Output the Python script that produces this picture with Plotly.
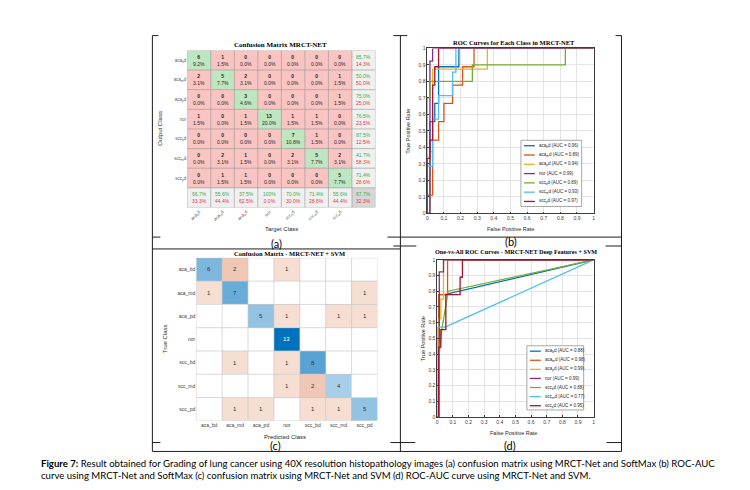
import plotly.graph_objects as go

W, H = 750, 490
def px(x): return x / W
def py(y): return 1 - y / H

# ---------------- data ----------------
class_tex = ["aca<sub>b</sub>d", "aca<sub>m</sub>d", "aca<sub>p</sub>d", "nor",
             "scc<sub>b</sub>d", "scc<sub>m</sub>d", "scc<sub>p</sub>d"]
class_svm = ["aca_bd", "aca_md", "aca_pd", "nor", "scc_bd", "scc_md", "scc_pd"]

# rows = output class, cols = target class
cm_softmax = [
    [6, 1, 0, 0, 0, 0, 0],
    [2, 5, 2, 0, 0, 0, 1],
    [0, 0, 3, 0, 0, 0, 1],
    [1, 0, 1, 13, 1, 1, 0],
    [0, 0, 0, 0, 7, 1, 0],
    [0, 2, 1, 0, 2, 5, 2],
    [0, 1, 1, 0, 0, 0, 5],
]
# rows = true class, cols = predicted class
cm_svm = [
    [6, 2, 0, 1, 0, 0, 0],
    [1, 7, 0, 0, 0, 0, 1],
    [0, 0, 5, 1, 0, 1, 1],
    [0, 0, 0, 13, 0, 0, 0],
    [0, 1, 0, 1, 8, 0, 0],
    [0, 0, 0, 1, 2, 4, 0],
    [0, 1, 1, 0, 1, 1, 5],
]

auc_softmax = [0.96, 0.89, 0.94, 0.99, 0.89, 0.93, 0.97]
auc_svm = [0.88, 0.98, 0.99, 0.99, 0.88, 0.77, 0.95]

roc_softmax_fpr = [
    [0, 0.016, 0.016, 0.045, 0.045, 0.068, 0.068, 0.19, 0.19, 1],
    [0, 0, 0.032, 0.032, 0.068, 0.068, 0.10, 0.10, 0.152, 0.152, 0.212, 0.212, 0.281, 0.281, 1],
    [0, 0.016, 0.016, 0.032, 0.032, 0.361, 0.361, 1],
    [0, 0.016, 0.016, 0.032, 0.032, 1],
    [0, 0, 0.016, 0.016, 0.271, 0.271, 0.83, 0.83, 1],
    [0, 0, 0.032, 0.032, 0.068, 0.068, 0.152, 0.152, 0.172, 0.172, 1],
    [0, 0, 0.016, 0.016, 0.032, 0.032, 0.045, 0.045, 0.068, 0.068, 1],
]
roc_softmax_tpr = [
    [0, 0, 0.556, 0.556, 0.667, 0.667, 0.889, 0.889, 1, 1],
    [0, 0.111, 0.111, 0.444, 0.444, 0.556, 0.556, 0.667, 0.667, 0.778, 0.778, 0.889, 0.889, 1, 1],
    [0, 0, 0.375, 0.375, 0.875, 0.875, 1, 1],
    [0, 0, 0.923, 0.923, 1, 1],
    [0, 0.7, 0.7, 0.8, 0.8, 0.9, 0.9, 1, 1],
    [0, 0.286, 0.286, 0.571, 0.571, 0.714, 0.714, 0.857, 0.857, 1, 1],
    [0, 0.333, 0.333, 0.444, 0.444, 0.778, 0.778, 0.889, 0.889, 1, 1],
]
roc_svm_fpr = [
    [0, 0.009, 0.009, 0.045, 1],
    [0, 0.009, 0.009, 0.066, 0.066, 1],
    [0, 0.009, 0.009, 0.023, 0.023, 0.04, 0.04, 1],
    [0, 0.013, 0.013, 0.04, 0.04, 1],
    [0, 0.013, 0.013, 0.03, 0.07, 1],
    [0, 0, 0.05, 1],
    [0, 0.009, 0.009, 0.023, 0.023, 0.055, 0.055, 0.146, 0.146, 0.161, 0.161, 1],
]
roc_svm_tpr = [
    [0, 0, 0.778, 0.778, 1],
    [0, 0, 0.778, 0.778, 1, 1],
    [0, 0, 0.625, 0.625, 0.75, 0.75, 1, 1],
    [0, 0, 0.923, 0.923, 1, 1],
    [0, 0, 0.4, 0.56, 0.8, 1],
    [0, 0.571, 0.571, 1],
    [0, 0, 0.444, 0.444, 0.556, 0.556, 0.778, 0.778, 0.889, 0.889, 1, 1],
]

line_colors = ["#0072BD", "#D95319", "#EDB120", "#7E2F8E", "#77AC30", "#4DBEEE", "#A2142F"]

SANS = "Liberation Sans"
SERIF = "Liberation Serif"

fig = go.Figure()
annotations = []
shapes = []
n = len(class_tex)

# ---------------- (a) confusion matrix softmax ----------------
total = sum(sum(r) for r in cm_softmax)
zcat = []
for i in range(n + 1):
    row = []
    for j in range(n + 1):
        if i == n and j == n:
            row.append(3)
        elif i == n or j == n:
            row.append(2)
        elif i == j:
            row.append(0)
        else:
            row.append(1)
    zcat.append(row)
G, P, GR, C = "rgb(190,230,193)", "rgb(249,196,193)", "rgb(240,240,240)", "rgb(214,214,214)"
fig.add_trace(go.Heatmap(
    z=zcat, x=list(range(n + 1)), y=list(range(n + 1)), zmin=0, zmax=3,
    colorscale=[[0, G], [1/6, G], [1/6, P], [0.5, P], [0.5, GR], [5/6, GR], [5/6, C], [1, C]],
    showscale=False, hoverinfo="skip", xaxis="x", yaxis="y"))

def pct(v):
    return "100%" if abs(v - 100) < 1e-9 else f"{v:.1f}%"

for i in range(n):
    for j in range(n):
        v = cm_softmax[i][j]
        annotations.append(dict(x=j, y=i, xref="x", yref="y", showarrow=False,
                                text=f"<b>{v}</b><br>{pct(v / total * 100)}",
                                font=dict(family=SANS, size=5, color="rgb(40,40,40)")))
GT, RT = "rgb(60,175,70)", "rgb(225,60,60)"
for i in range(n):
    rs = sum(cm_softmax[i])
    acc = cm_softmax[i][i] / rs * 100
    annotations.append(dict(x=n, y=i, xref="x", yref="y", showarrow=False,
                            text=f"<span style='color:{GT}'>{pct(acc)}</span><br><span style='color:{RT}'>{pct(100 - acc)}</span>",
                            font=dict(family=SANS, size=5)))
for j in range(n):
    cs = sum(cm_softmax[i][j] for i in range(n))
    acc = cm_softmax[j][j] / cs * 100
    annotations.append(dict(x=j, y=n, xref="x", yref="y", showarrow=False,
                            text=f"<span style='color:{GT}'>{pct(acc)}</span><br><span style='color:{RT}'>{pct(100 - acc)}</span>",
                            font=dict(family=SANS, size=5)))
acc_all = sum(cm_softmax[k][k] for k in range(n)) / total * 100
annotations.append(dict(x=n, y=n, xref="x", yref="y", showarrow=False,
                        text=f"<span style='color:{GT}'>{pct(acc_all)}</span><br><span style='color:{RT}'>{pct(100 - acc_all)}</span>",
                        font=dict(family=SANS, size=5)))
for k in range(n + 2):
    shapes.append(dict(type="line", xref="x", yref="y", x0=k - 0.5, x1=k - 0.5, y0=-0.5, y1=n + 0.5,
                       line=dict(color="rgb(150,150,150)", width=0.6)))
    shapes.append(dict(type="line", xref="x", yref="y", y0=k - 0.5, y1=k - 0.5, x0=-0.5, x1=n + 0.5,
                       line=dict(color="rgb(150,150,150)", width=0.6)))

# ---------------- (c) confusion matrix SVM ----------------
cmax = max(max(r) for r in cm_svm)
diag = [[cm_svm[i][j] if i == j else None for j in range(n)] for i in range(n)]
off = [[cm_svm[i][j] if i != j else None for j in range(n)] for i in range(n)]
fig.add_trace(go.Heatmap(z=off, x=list(range(n)), y=list(range(n)), zmin=0, zmax=2,
                         colorscale=[[0, "white"], [0.5, "rgb(247,222,210)"], [1, "rgb(240,198,180)"]],
                         showscale=False, hoverinfo="skip", xaxis="x3", yaxis="y3"))
fig.add_trace(go.Heatmap(z=diag, x=list(range(n)), y=list(range(n)), zmin=0, zmax=cmax,
                         colorscale=[[0, "white"], [0.25, "rgb(185,215,237)"], [0.5, "rgb(115,177,219)"],
                                     [1, "rgb(0,114,189)"]],
                         showscale=False, hoverinfo="skip", xaxis="x3", yaxis="y3"))
for i in range(n):
    for j in range(n):
        v = cm_svm[i][j]
        if v:
            annotations.append(dict(x=j, y=i, xref="x3", yref="y3", showarrow=False, text=str(v),
                                    font=dict(family=SANS, size=6,
                                              color="white" if v == cmax else "rgb(50,50,50)")))
for k in range(n + 1):
    shapes.append(dict(type="line", xref="x3", yref="y3", x0=k - 0.5, x1=k - 0.5, y0=-0.5, y1=n - 0.5,
                       line=dict(color="rgb(200,200,200)", width=0.7)))
    shapes.append(dict(type="line", xref="x3", yref="y3", y0=k - 0.5, y1=k - 0.5, x0=-0.5, x1=n - 0.5,
                       line=dict(color="rgb(200,200,200)", width=0.7)))

# ---------------- ROC curves ----------------
for k in range(n):
    fig.add_trace(go.Scatter(x=roc_softmax_fpr[k], y=roc_softmax_tpr[k], mode="lines",
                             line=dict(color=line_colors[k], width=1.3), showlegend=False,
                             hoverinfo="skip", xaxis="x2", yaxis="y2"))
    fig.add_trace(go.Scatter(x=roc_svm_fpr[k], y=roc_svm_tpr[k], mode="lines",
                             line=dict(color=line_colors[k], width=1.3), showlegend=False,
                             hoverinfo="skip", xaxis="x4", yaxis="y4"))

def legend_box(x0, x1, y0, y1, aucs, step):
    shapes.append(dict(type="rect", xref="paper", yref="paper", x0=px(x0), x1=px(x1), y0=py(y1), y1=py(y0),
                       fillcolor="white", line=dict(color="rgb(130,130,130)", width=0.7), layer="above"))
    for k in range(n):
        yy = y0 + 5.5 + k * step
        shapes.append(dict(type="line", xref="paper", yref="paper", x0=px(x0 + 3), x1=px(x0 + 14),
                           y0=py(yy), y1=py(yy), line=dict(color=line_colors[k], width=1.3), layer="above"))
        annotations.append(dict(x=px(x0 + 16), y=py(yy), xref="paper", yref="paper", showarrow=False,
                                xanchor="left", yanchor="middle",
                                text=f"{class_tex[k]} (AUC = {aucs[k]:.2f})",
                                font=dict(family=SANS, size=4.5, color="rgb(40,40,40)")))

legend_box(522, 583, 139, 206, auc_softmax, 9.4)
legend_box(528, 585, 347, 412, auc_svm, 9.2)

# ---------------- axes ----------------
tickfont = dict(family=SANS, size=5, color="rgb(60,60,60)")
roc_axis = dict(range=[0, 1], dtick=0.1, showgrid=True, gridcolor="rgb(228,228,228)", gridwidth=0.6,
                zeroline=False, showline=True, mirror=True, linecolor="rgb(60,60,60)", linewidth=0.7,
                ticks="inside", ticklen=2, tickcolor="rgb(60,60,60)", tickfont=tickfont, fixedrange=True)

fig.update_layout(
    width=W, height=H, margin=dict(l=0, r=0, t=0, b=0),
    paper_bgcolor="white", plot_bgcolor="white",
    xaxis=dict(domain=[px(187), px(376)], range=[-0.5, n + 0.5], tickvals=list(range(n)), ticktext=class_tex,
               tickangle=-45, tickfont=dict(family=SANS, size=4.5, color="rgb(90,90,90)"), showgrid=False,
               zeroline=False, ticks="", anchor="y"),
    yaxis=dict(domain=[py(207), py(48)], range=[n + 0.5, -0.5], tickvals=list(range(n)), ticktext=class_tex,
               tickfont=dict(family=SANS, size=4.5, color="rgb(90,90,90)"), showgrid=False,
               zeroline=False, ticks="", anchor="x"),
    xaxis2=dict(domain=[px(428), px(595)], anchor="y2", **roc_axis),
    yaxis2=dict(domain=[py(213), py(46)], anchor="x2", **roc_axis),
    xaxis3=dict(domain=[px(196), px(378)], range=[-0.5, n - 0.5], tickvals=list(range(n)), ticktext=class_svm,
                tickfont=dict(family=SANS, size=5, color="rgb(60,60,60)"), showgrid=False,
                zeroline=False, ticks="", anchor="y3"),
    yaxis3=dict(domain=[py(423), py(258)], range=[n - 0.5, -0.5], tickvals=list(range(n)), ticktext=class_svm,
                tickfont=dict(family=SANS, size=5, color="rgb(60,60,60)"), showgrid=False,
                zeroline=False, ticks="", anchor="x3"),
    xaxis4=dict(domain=[px(438), px(595)], anchor="y4", **roc_axis),
    yaxis4=dict(domain=[py(419), py(260)], anchor="x4", **roc_axis),
)

def txt(x, y, s, size, family=SANS, color="rgb(30,30,30)", angle=0, xanchor="center"):
    annotations.append(dict(x=px(x), y=py(y), xref="paper", yref="paper", showarrow=False, text=s,
                            textangle=angle, xanchor=xanchor, yanchor="middle",
                            font=dict(family=family, size=size, color=color)))

# titles & labels
txt(281, 43, "<b>Confusion Matrix MRCT-NET</b>", 7, SERIF, "black")
txt(282, 229, "Target Class", 6, SANS, "rgb(40,40,40)")
txt(160, 127, "Output Class", 6, SANS, "rgb(40,40,40)", -90)
txt(515, 40, "<b>ROC Curves for Each Class in MRCT-NET</b>", 6.5, SERIF, "black")
txt(512, 229, "False Positive Rate", 5.5, SANS, "rgb(40,40,40)")
txt(409, 130, "True Positive Rate", 5.5, SANS, "rgb(40,40,40)", -90)
txt(290, 254, "<b>Confusion Matrix - MRCT-NET + SVM</b>", 6.5, SERIF, "black")
txt(285, 439, "Predicted Class", 6, SANS, "rgb(40,40,40)")
txt(164, 340, "True Class", 6, SANS, "rgb(40,40,40)", -90)
txt(517, 252, "<b>One-vs-All ROC Curves - MRCT-NET Deep Features + SVM</b>", 6.2, SERIF, "black")
txt(515, 435, "False Positive Rate", 5.5, SANS, "rgb(40,40,40)")
txt(424, 340, "True Positive Rate", 5.5, SANS, "rgb(40,40,40)", -90)

# panel labels
txt(277, 243, "(a)", 11, "Lato", "black")
txt(512, 241, "(b)", 11, "Lato", "black")
txt(276, 448, "(c)", 11, "Lato", "black")
txt(511, 448, "(d)", 11, "Lato", "black")

# caption
txt(38, 466, "<b>Figure 7:</b> Result obtained for Grading of lung cancer using 40X resolution histopathology images (a) confusion matrix using MRCT-Net and SoftMax (b) ROC-AUC",
    9.6, "Lato", "black", 0, "left")
txt(38, 478, "curve using MRCT-Net and SoftMax (c) confusion matrix using MRCT-Net and SVM (d) ROC-AUC curve using MRCT-Net and SVM.",
    9.6, "Lato", "black", 0, "left")

# frame lines
frame = [
    (152, 33, 152, 454), (401, 33, 401, 454), (623, 33, 623, 454),
    (152, 33, 158, 33), (394, 33, 408, 33), (617, 33, 623, 33),
    (152, 249, 401, 249), (401, 237, 623, 237), (152, 237, 160, 237), (388, 237, 401, 237),
    (394, 246, 417, 246), (607, 246, 623, 246),
    (152, 454, 623, 454), (152, 445, 160, 445), (391, 445, 416, 445), (608, 445, 623, 445),
]
for (x0, y0, x1, y1) in frame:
    shapes.append(dict(type="line", xref="paper", yref="paper", x0=px(x0), x1=px(x1), y0=py(y0), y1=py(y1),
                       line=dict(color="rgb(30,30,30)", width=1)))

fig.update_layout(annotations=annotations, shapes=shapes)
fig.write_html("out.html")
